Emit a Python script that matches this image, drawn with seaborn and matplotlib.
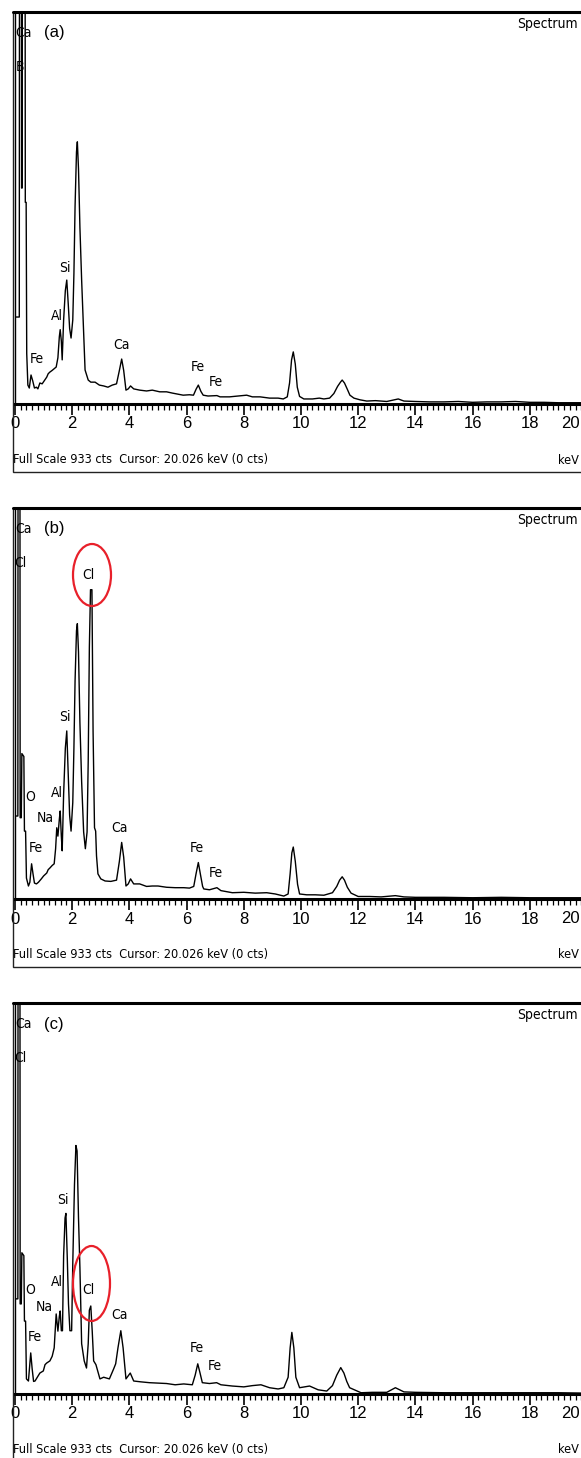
import matplotlib
matplotlib.use("Agg")
import matplotlib.pyplot as plt
import matplotlib.font_manager as fm
from matplotlib.font_manager import FontProperties
from matplotlib.patches import Rectangle, Ellipse
from matplotlib.lines import Line2D
from matplotlib.transforms import Affine2D
from matplotlib.ticker import MultipleLocator
import pandas as pd
import seaborn as sns

# ---------------- data ----------------
energy_a = [0.00, 0.15, 0.16, 0.22, 0.23, 0.25, 0.26, 0.35, 0.36, 0.39, 0.41, 0.45, 0.50, 0.56, 0.62,
            0.68, 0.75, 0.80, 0.87, 0.95, 1.02, 1.11, 1.16, 1.22, 1.30, 1.37, 1.44, 1.50, 1.55, 1.58,
            1.62, 1.65, 1.70, 1.76, 1.81, 1.86, 1.91, 1.96, 2.02, 2.06, 2.10, 2.15, 2.18, 2.22, 2.27,
            2.33, 2.40, 2.45, 2.56, 2.65, 2.80, 2.95, 3.10, 3.25, 3.40, 3.55, 3.65, 3.73, 3.80, 3.88,
            3.96, 4.04, 4.15, 4.36, 4.60, 4.80, 5.06, 5.30, 5.50, 5.88, 6.10, 6.24, 6.33, 6.41, 6.50,
            6.58, 6.75, 7.06, 7.17, 7.50, 7.80, 8.10, 8.30, 8.57, 8.90, 9.20, 9.38, 9.52, 9.60, 9.67,
            9.73, 9.80, 9.87, 9.95, 10.10, 10.40, 10.64, 10.80, 11.00, 11.15, 11.28, 11.38, 11.44, 11.52,
            11.62, 11.71, 11.85, 12.06, 12.30, 12.60, 13.00, 13.40, 13.60, 14.00, 14.50, 15.00, 15.50,
            16.00, 16.50, 17.00, 17.50, 18.00, 18.50, 19.00, 19.50, 20.00]
counts_a = [207, 207, 1500, 1500, 514, 514, 1500, 1500, 480, 480, 120, 45, 38, 69, 55,
            38, 40, 36, 50, 48, 55, 64, 72, 76, 80, 84, 88, 110, 160, 177,
            150, 105, 200, 270, 295, 240, 180, 157, 200, 310, 470, 600, 624, 560, 420,
            295, 170, 81, 57, 52, 52, 45, 43, 40, 45, 48, 80, 107, 80, 33,
            36, 43, 36, 33, 31, 33, 29, 29, 26, 21, 22, 21, 35, 45, 30,
            21, 19, 20, 17, 17, 19, 21, 17, 17, 14, 14, 12, 17, 50, 105,
            124, 95, 40, 18, 12, 12, 14, 12, 14, 25, 42, 52, 57, 50,
            35, 21, 14, 10, 7, 8, 6, 12, 7, 6, 5, 5, 6,
            4, 5, 5, 6, 4, 4, 3, 3, 3]

energy_b = [0.00, 0.10, 0.11, 0.17, 0.18, 0.22, 0.24, 0.31, 0.33, 0.37, 0.40, 0.47, 0.52, 0.58, 0.63,
            0.68, 0.75, 0.82, 0.92, 1.00, 1.11, 1.16, 1.22, 1.30, 1.37, 1.42, 1.46, 1.50, 1.55, 1.58,
            1.62, 1.65, 1.70, 1.76, 1.81, 1.86, 1.91, 1.96, 2.02, 2.06, 2.10, 2.15, 2.18, 2.22, 2.27,
            2.33, 2.40, 2.46, 2.52, 2.56, 2.60, 2.64, 2.69, 2.73, 2.78, 2.82, 2.85, 2.90, 3.00, 3.15,
            3.35, 3.55, 3.65, 3.73, 3.80, 3.88, 3.96, 4.04, 4.15, 4.36, 4.60, 4.80, 5.00, 5.30, 5.60,
            5.90, 6.10, 6.25, 6.33, 6.41, 6.48, 6.56, 6.60, 6.80, 7.06, 7.20, 7.60, 8.00, 8.40, 8.80,
            9.10, 9.40, 9.55, 9.62, 9.68, 9.73, 9.80, 9.88, 9.95, 10.20, 10.50, 10.80, 11.10, 11.25,
            11.35, 11.44, 11.52, 11.62, 11.75, 12.00, 12.40, 12.80, 13.30, 13.60, 14.00, 15.00, 16.00,
            17.00, 18.00, 19.00, 20.00]
counts_b = [198, 198, 1500, 1500, 194, 194, 347, 340, 162, 162, 50, 31, 40, 84, 60,
            38, 36, 40, 48, 55, 62, 70, 74, 80, 84, 120, 170, 150, 190, 210,
            150, 115, 250, 360, 401, 300, 200, 162, 230, 360, 520, 640, 657, 590, 420,
            280, 160, 120, 160, 330, 600, 738, 738, 400, 170, 162, 103, 60, 48, 43,
            42, 45, 90, 135, 100, 31, 36, 48, 36, 36, 30, 31, 31, 28, 27,
            27, 26, 30, 60, 87, 60, 30, 24, 22, 27, 20, 15, 16, 14, 15,
            12, 7, 12, 60, 110, 124, 90, 35, 12, 10, 10, 9, 15, 30,
            45, 53, 45, 28, 14, 6, 6, 5, 8, 5, 4, 4, 3,
            4, 3, 3, 3]

energy_c = [0.00, 0.10, 0.11, 0.17, 0.18, 0.22, 0.24, 0.31, 0.33, 0.37, 0.40, 0.47, 0.55, 0.60, 0.65,
            0.70, 0.78, 0.87, 0.99, 1.05, 1.11, 1.22, 1.30, 1.37, 1.44, 1.50, 1.55, 1.58, 1.62, 1.66,
            1.70, 1.75, 1.78, 1.83, 1.87, 1.92, 1.98, 2.02, 2.08, 2.13, 2.17, 2.22, 2.27, 2.33, 2.42,
            2.50, 2.56, 2.60, 2.65, 2.70, 2.75, 2.83, 2.97, 3.10, 3.30, 3.45, 3.52, 3.60, 3.70, 3.78,
            3.88, 4.03, 4.15, 4.40, 4.70, 5.00, 5.30, 5.60, 5.90, 6.20, 6.30, 6.39, 6.47, 6.55, 6.80,
            7.05, 7.20, 7.60, 8.00, 8.30, 8.60, 8.90, 9.20, 9.40, 9.55, 9.62, 9.68, 9.75, 9.82, 9.95,
            10.30, 10.60, 10.90, 11.10, 11.25, 11.39, 11.50, 11.60, 11.70, 12.10, 12.50, 13.00, 13.30,
            13.60, 14.00, 15.00, 16.00, 17.00, 18.00, 19.00, 20.00]
counts_c = [227, 227, 1500, 1500, 215, 215, 337, 330, 174, 174, 36, 31, 98, 60, 30,
            31, 40, 50, 55, 70, 74, 79, 90, 110, 191, 150, 185, 198, 151, 151,
            330, 420, 431, 320, 215, 151, 151, 311, 500, 593, 580, 421, 301, 120, 79,
            62, 120, 200, 210, 150, 79, 70, 36, 40, 36, 60, 72, 110, 151, 110,
            36, 50, 31, 29, 27, 26, 25, 22, 24, 22, 45, 72, 50, 27, 25,
            27, 22, 19, 17, 20, 22, 15, 12, 15, 40, 110, 147, 110, 40, 15,
            19, 10, 7, 20, 45, 63, 50, 30, 15, 3, 4, 4, 15,
            5, 4, 3, 3, 3, 3, 3, 2]

tick_values = [0, 2, 4, 6, 8, 10, 12, 14, 16, 18, 20]
panel_tags = ["(a)", "(b)", "(c)"]
corner_labels = [["Ca", "B"], ["Ca", "Cl"], ["Ca", "Cl"]]
footer_text = "Full Scale 933 cts  Cursor: 20.026 keV (0 cts)"

# peak labels (text, x px, y offset px from panel top)
peak_labels = [
    [("Si", 65, 256), ("Al", 57, 304), ("Fe", 37, 347), ("Ca", 121, 333), ("Fe", 198, 355), ("Fe", 216, 370)],
    [("Cl", 88, 67), ("Si", 65, 209), ("O", 30, 289), ("Al", 57, 285), ("Na", 45, 310), ("Fe", 36, 340),
     ("Ca", 120, 320), ("Fe", 197, 340), ("Fe", 216, 365)],
    [("Si", 63, 197), ("O", 30, 287), ("Al", 57, 279), ("Na", 44, 304), ("Fe", 35, 334), ("Cl", 88, 287),
     ("Ca", 119, 312), ("Fe", 197, 345), ("Fe", 215, 363)],
]
# red circles (center x, center y offset from top, width, height) px
circles = [None, (92, 67, 38, 62), (91.5, 280.5, 37, 75)]

# ---------------- fonts ----------------
W, H = 581, 1458
sns.set_theme(style="ticks")
plt.rcParams["font.family"] = ["Liberation Sans", "DejaVu Sans"]

narrow_file = None
prefs = ["liberationsansnarrow-regular", "liberationsans-narrow", "dejavusanscondensed.ttf",
         "robotocondensed-regular", "opensans_condensed-regular", "opensanscondensed"]
files = [f.fname for f in fm.fontManager.ttflist]
for p in prefs:
    for fn in files:
        if p in fn.lower().replace(" ", "").replace("_", "") or p in fn.lower():
            narrow_file = fn
            break
    if narrow_file:
        break
if narrow_file is None:
    for f in fm.fontManager.ttflist:
        low = (f.name + f.fname).lower()
        if ("narrow" in low or "condensed" in low) and "bold" not in low and "italic" not in low \
                and "oblique" not in low and "light" not in low:
            narrow_file = f.fname
            break

if narrow_file is not None:
    NP = lambda size: FontProperties(fname=narrow_file, size=size)
    LAB, FOOT = 10, 9.1
else:
    NP = lambda size: FontProperties(family="DejaVu Sans", size=size)
    LAB, FOOT = 9, 8.2

# ---------------- layout ----------------
fig = plt.figure(figsize=(W / 100, H / 100), dpi=100)
fig.patch.set_facecolor("white")
pxT = Affine2D().scale(1.0 / W, -1.0 / H).translate(0, 1) + fig.transFigure

tops = [12, 508, 1003]
axis_ys = [404, 899, 1394]
frame_bottoms = [472, 967, 1463]
datasets = [(energy_a, counts_a), (energy_b, counts_b), (energy_c, counts_c)]

x0_px, x20_px = 15, 587

for i in range(3):
    top, ay, fb = tops[i], axis_ys[i], frame_bottoms[i]
    fig.add_artist(Rectangle((13, top), 700, fb - top, transform=pxT, fill=False,
                             ec="#222222", lw=1.0))
    fig.add_artist(Line2D([13, 700], [top, top], transform=pxT, color="black", lw=2.2))

    ax = fig.add_axes([x0_px / W, 1 - ay / H, (x20_px - x0_px) / W, (ay - top) / H])
    ax.set_facecolor("none")
    e, c = datasets[i]
    df = pd.DataFrame({"keV": e, "cts": c})
    sns.lineplot(data=df, x="keV", y="cts", ax=ax, color="black", lw=1.0,
                 estimator=None, sort=False)
    ax.set_xlim(0, 20)
    ax.set_ylim(0, 933)
    ax.set_xlabel("")
    ax.set_ylabel("")
    ax.set_yticks([])
    for s in ["top", "right"]:
        ax.spines[s].set_visible(False)
    ax.spines["left"].set_linewidth(1.0)
    ax.spines["left"].set_color("black")
    ax.spines["bottom"].set_linewidth(2.2)
    ax.spines["bottom"].set_color("black")
    ax.set_xticks(tick_values)
    # last label (20) sits at the figure edge: drawn separately so it stays inside
    ax.set_xticklabels([str(t) for t in tick_values[:-1]] + [""])
    ax.xaxis.set_minor_locator(MultipleLocator(0.2))
    ax.tick_params(axis="x", which="major", direction="out", length=8, width=1.2,
                   labelsize=12, pad=1, color="black", labelcolor="black")
    ax.tick_params(axis="x", which="minor", direction="out", length=4, width=0.9, color="black")
    fig.text(580, ay + 20, str(tick_values[-1]), transform=pxT, fontsize=12, ha="right",
             va="center", color="black")

    fig.text(54, top + 21, panel_tags[i], transform=pxT, fontsize=12, ha="center", va="center",
             color="black")
    fig.text(23, top + 21, corner_labels[i][0], transform=pxT, fontproperties=NP(LAB),
             ha="center", va="center", color="black")
    fig.text(20, top + 55, corner_labels[i][1], transform=pxT, fontproperties=NP(LAB),
             ha="center", va="center", color="black")
    fig.text(578, top + 12, "Spectrum", transform=pxT, fontproperties=NP(LAB),
             ha="right", va="center", color="black")
    fig.text(13, ay + 56, footer_text, transform=pxT, fontproperties=NP(FOOT),
             ha="left", va="center", color="black")
    fig.text(579, ay + 56, "keV", transform=pxT, fontproperties=NP(FOOT),
             ha="right", va="center", color="black")
    for (t, x, yo) in peak_labels[i]:
        fig.text(x, top + yo, t, transform=pxT, fontproperties=NP(LAB),
                 ha="center", va="center", color="black")
    if circles[i] is not None:
        cx, cyo, w, h = circles[i]
        fig.add_artist(Ellipse((cx, top + cyo), w, h, transform=pxT, fill=False,
                               ec="#e8202a", lw=1.6))

fig.savefig("out.png", dpi=100, facecolor="white")
